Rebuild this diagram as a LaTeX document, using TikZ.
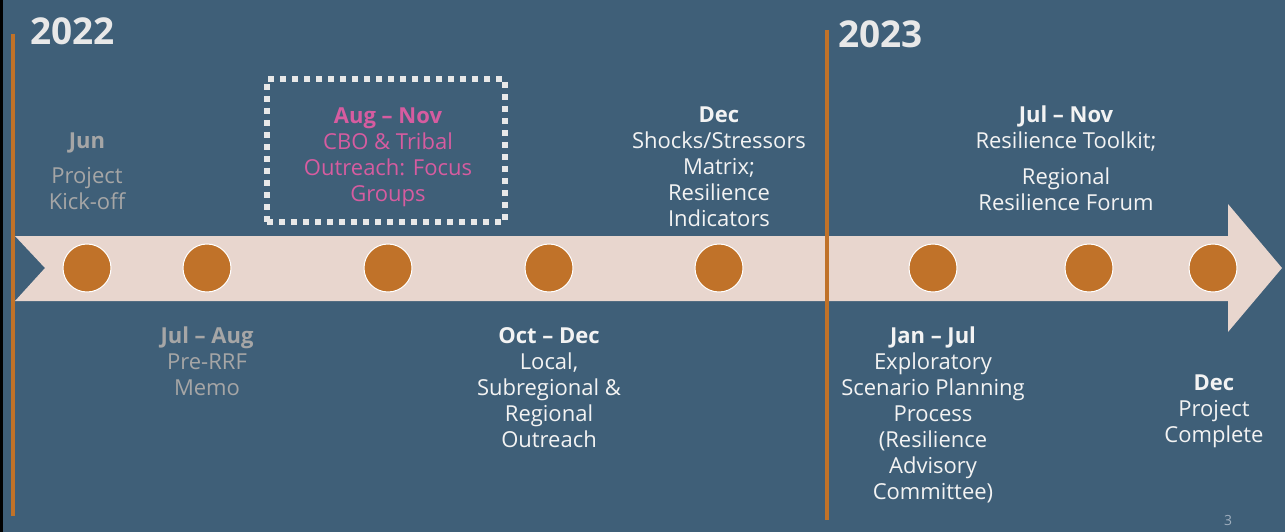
\documentclass[tikz,border=0pt]{standalone}
\usepackage{fontspec}
\setmainfont{Open Sans}
\definecolor{bg}{RGB}{63,95,120}
\definecolor{band}{RGB}{232,214,206}
\definecolor{dotc}{RGB}{192,114,41}
\definecolor{graytxt}{RGB}{166,166,166}
\definecolor{pinktxt}{RGB}{214,92,160}
\definecolor{whitetxt}{RGB}{243,243,243}
\definecolor{yeartxt}{RGB}{232,232,232}
\definecolor{pagenum}{RGB}{160,175,190}
\tikzset{
  lbl/.style={align=center, inner sep=0pt, anchor=base, font=\fontsize{22}{26}\selectfont},
  yearlbl/.style={inner sep=0pt, anchor=base west, text=yeartxt, font=\fontsize{37}{40}\selectfont\bfseries},
  dotnode/.style={circle, fill=dotc, draw=white, line width=1pt, minimum size=48pt, inner sep=0pt},
  yearline/.style={draw=dotc, line width=3.5pt},
  dottedbox/.style={draw=yeartxt, line width=5.5pt, dash pattern=on 6pt off 6pt, minimum width=238pt, minimum height=143pt, inner sep=0pt}
}
\begin{document}
\begin{tikzpicture}[x=1pt,y=-1pt]
\useasboundingbox (0,0) rectangle (1285,532);
\fill[bg] (0,0) rectangle (1285,532);
\fill[black] (0,0) rectangle (3,532);
% arrow band
\fill[band] (15,236) -- (1228,236) -- (1228,204) -- (1282,268) -- (1228,332) -- (1228,301) -- (15,301) -- (45,268) -- cycle;
% year lines
\coordinate (l1a) at (13,34);
\coordinate (l1b) at (13,516);
\coordinate (l2a) at (827,30);
\coordinate (l2b) at (827,520);
\draw[yearline] (l1a) -- (l1b);
\draw[yearline] (l2a) -- (l2b);
% years
\node[yearlbl] (y22) at (30,45) {2022};
\node[yearlbl] (y23) at (838,48) {2023};
% dots
\node[dotnode] (d1) at (87,268) {};
\node[dotnode] (d2) at (207,268) {};
\node[dotnode] (d3) at (388,268) {};
\node[dotnode] (d4) at (549,268) {};
\node[dotnode] (d5) at (719,268) {};
\node[dotnode] (d6) at (933,268) {};
\node[dotnode] (d7) at (1089,268) {};
\node[dotnode] (d8) at (1213,268) {};
% dotted box
\node[dottedbox] (box) at (386,150.5) {};
% top labels (anchor = baseline of last line)
\node[lbl, text=graytxt] (t1) at (87,209) {\textbf{Jun}\\[9pt]Project\\Kick-off};
\node[lbl, text=pinktxt] (t3) at (388,201) {\textbf{Aug – Nov}\\CBO \& Tribal\\Outreach: Focus\\Groups};
\node[lbl, text=whitetxt] (t5) at (719,226) {\textbf{Dec}\\Shocks/Stressors\\Matrix;\\Resilience\\Indicators};
\node[lbl, text=whitetxt] (t7) at (1066,210) {\textbf{Jul – Nov}\\Resilience Toolkit;\\[10pt]Regional\\Resilience Forum};
% bottom labels
\node[lbl, text=graytxt] (t2) at (207,395) {\textbf{Jul – Aug}\\Pre-RRF\\Memo};
\node[lbl, text=whitetxt] (t4) at (549,447) {\textbf{Oct – Dec}\\Local,\\Subregional \&\\Regional\\Outreach};
\node[lbl, text=whitetxt] (t6) at (933,499) {\textbf{Jan – Jul}\\Exploratory\\Scenario Planning\\Process\\(Resilience\\Advisory\\Committee)};
\node[lbl, text=whitetxt] (t8) at (1214,442) {\textbf{Dec}\\Project\\Complete};
% page number
\node[inner sep=0pt, anchor=base, text=pagenum, font=\fontsize{14}{16}\selectfont] (pg) at (1228,525) {3};
\end{tikzpicture}
\end{document}
